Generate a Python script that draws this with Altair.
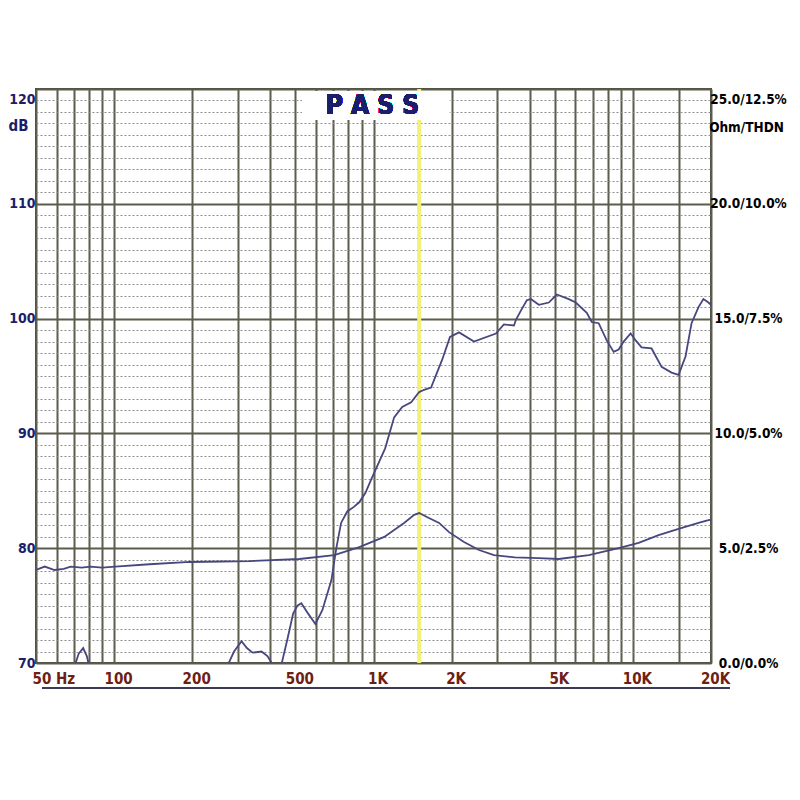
import altair as alt
import pandas as pd


# frequency response (dB SPL); values under 70 fall off the bottom
spl_freq = [50, 65, 70.6, 73, 76, 78.5, 80, 90, 250,
            274, 290, 310, 325, 342, 370, 390, 408, 442,
            465, 490, 509, 527, 560, 597, 635, 688, 719,
            750, 792, 840, 881, 930, 980, 1109, 1201, 1290,
            1397, 1500, 1567, 1667, 1838, 1972, 2137, 2440, 2965,
            3181, 3480, 3540, 3700, 3900, 4040, 4340, 4740, 5090,
            5660, 6020, 6640, 6940, 7380, 7925, 8430, 8810, 9210,
            9800, 10250, 10800, 11800, 12900, 14090, 15000, 15950, 16830,
            17900, 18700, 19550, 20000]
spl_db = [60, 60, 69.8, 70.8, 71.3, 70.6, 69.8, 60, 60,
          69.8, 71.0, 71.9, 71.3, 70.9, 71.0, 70.6, 69.9, 69.9,
          72.0, 74.3, 75.0, 75.2, 74.3, 73.4, 74.6, 77.2, 80.0,
          82.2, 83.2, 83.6, 84.0, 84.8, 86.0, 88.7, 91.4, 92.3,
          92.7, 93.6, 93.8, 94.0, 96.4, 98.4, 98.8, 98.0, 98.7,
          99.5, 99.4, 99.9, 100.7, 101.6, 101.7, 101.2, 101.4, 102.1,
          101.7, 101.4, 100.5, 99.7, 99.6, 98.1, 97.1, 97.3, 98.0,
          98.7, 98.1, 97.5, 97.4, 95.8, 95.3, 95.1, 96.7, 99.6,
          101.0, 101.7, 101.4, 101.2]

# impedance (ohm)
imp_freq = [50, 54, 59, 64, 68, 75, 81, 90, 101, 137, 196, 260, 333,
            518, 706, 881, 1100, 1312, 1435, 1500, 1606, 1790, 1955,
            2233, 2551, 2913, 3500, 4340, 5180, 6760, 8810, 10520,
            12560, 15000, 17900, 19230, 20000]
imp_ohm = [4.05, 4.2, 4.05, 4.1, 4.2, 4.15, 4.2, 4.15, 4.2, 4.3, 4.4, 4.42, 4.44,
           4.53, 4.7, 5.05, 5.49, 6.1, 6.45, 6.53, 6.36, 6.1, 5.7,
           5.27, 4.92, 4.7, 4.6, 4.57, 4.53, 4.7, 5.0, 5.23,
           5.57, 5.84, 6.1, 6.2, 6.25]

grid_freqs = [50, 60, 70, 80, 90, 100, 200, 300, 400, 500, 600, 700, 800, 900,
              1000, 2000, 3000, 4000, 5000, 6000, 7000, 8000, 9000, 10000, 15000, 20000]
hz_labels = [100, 200, 500]
k_labels = [1000, 2000, 5000, 10000, 20000]
db_ticks = list(range(70, 121))
ohm_ticks = [0, 5, 10, 15, 20, 25]
marker_freq = [1500]
verdict = "P A S S"

FONT = "DejaVu Sans Condensed, Liberation Sans Narrow, sans-serif"
NAVY = "#1b1f6b"
CURVE = "#47477f"
GRID = "#5c5c4c"

spl = pd.DataFrame({"freq": spl_freq, "db": spl_db})
imp = pd.DataFrame({"freq": imp_freq, "ohm": imp_ohm})
marker = pd.DataFrame({"freq": marker_freq})

x_scale = alt.Scale(type="log", domain=[50, 20000], nice=False)

x_label_expr = (
    "datum.value == 50 ? '50  Hz' : "
    f"indexof({hz_labels}, datum.value) >= 0 ? toString(datum.value) : "
    f"indexof({k_labels}, datum.value) >= 0 ? toString(datum.value / 1000) + 'K' : ''"
)

x_axis = alt.Axis(
    values=grid_freqs, tickCount=100, labelExpr=x_label_expr, title=None,
    grid=True, gridColor=GRID, gridWidth=2, ticks=False, domain=False,
    labelColor="#6e2015", labelFont=FONT, labelFontSize=15, labelFontWeight="bold",
    labelPadding=8, labelFlush=False, labelOverlap=False, labelBound=False,
    labelAlign={"expr": "datum.value == 50 ? 'left' : 'center'"},
    labelOffset={"expr": "datum.value == 50 ? -4 : 4"},
)

db_axis = alt.Axis(
    values=db_ticks, tickCount=100,
    labelExpr="datum.value % 10 == 0 ? toString(datum.value) : ''",
    grid=True,
    gridColor={"expr": "datum.value % 10 == 0 ? '#5c5c4c' : '#8c8c8c'"},
    gridWidth={"expr": "datum.value % 10 == 0 ? 2 : 1"},
    gridDash={"expr": "datum.value % 10 == 0 ? [] : [2, 2]"},
    ticks=False, domain=False, labelOverlap=False,
    labelColor=NAVY, labelFont=FONT, labelFontSize=14, labelFontWeight="bold",
    labelPadding=1,
    labelBaseline={"expr": "datum.value == 120 ? 'top' : 'middle'"},
    labelOffset={"expr": "datum.value == 120 ? 3 : 0"},
    title="dB", titleAngle=0, titleX=-8, titleY=36, titleAlign="right",
    titleBaseline="middle", titleColor=NAVY, titleFont=FONT, titleFontSize=15,
    titleFontWeight="bold",
)

ohm_axis = alt.Axis(
    orient="right", values=ohm_ticks,
    labelExpr="format(datum.value, '.1f') + '/' + format(datum.value / 2, '.1f') + '%'",
    grid=False, ticks=False, domain=False, labelOverlap=False,
    labelColor="black", labelFont=FONT, labelFontSize=13.5, labelFontWeight="bold",
    labelAlign="center", labelPadding=37,
    labelBaseline={"expr": "datum.value == 25 ? 'top' : 'middle'"},
    labelOffset={"expr": "datum.value == 25 ? 3 : 0"},
    title="Ohm/THDN", titleAngle=0, titleX=35, titleY=38, titleAlign="center",
    titleBaseline="middle", titleColor="black", titleFont=FONT, titleFontSize=13.5,
    titleFontWeight="bold",
)

x_enc = alt.X("freq:Q", scale=x_scale, axis=x_axis)

marker_rule = alt.Chart(marker).mark_rule(color="#f3f07c", strokeWidth=4).encode(
    x=alt.X("freq:Q", scale=x_scale)
)

spl_line = alt.Chart(spl).mark_line(color=CURVE, strokeWidth=1.8, clip=True).encode(
    x=x_enc,
    y=alt.Y("db:Q", scale=alt.Scale(domain=[70, 120], nice=False, zero=False), axis=db_axis),
)

pass_box = alt.Chart(spl).mark_rect(color="white").encode(
    x=alt.X(datum=532), x2=alt.X2(datum=1955),
    y=alt.Y(datum=119.8), y2=alt.Y2(datum=117.3),
)

pass_text = alt.Chart(spl).mark_text(
    text=verdict, font=FONT, fontSize=26, fontWeight="bold", color=NAVY,
    align="center", baseline="middle",
).encode(x=alt.X(datum=990), y=alt.Y(datum=118.5))

base_line = alt.Chart(spl).mark_rule(color="#3a3a5a", strokeWidth=2).encode(
    x=alt.value(6), x2=alt.value(694), y=alt.value(599)
)

spl_layer = alt.layer(marker_rule, spl_line, pass_box, pass_text, base_line)

imp_line = alt.Chart(imp).mark_line(color=CURVE, strokeWidth=1.8, clip=True).encode(
    x=alt.X("freq:Q", scale=x_scale),
    y=alt.Y("ohm:Q", scale=alt.Scale(domain=[0, 25], nice=False), axis=ohm_axis),
)

chart = alt.layer(spl_layer, imp_line).resolve_scale(y="independent").properties(
    width=675, height=574,
    padding={"left": 28, "top": 81, "right": 81, "bottom": 129},
    autosize=alt.AutoSizeParams(type="none"),
    background="white",
).configure_view(stroke="#4a4a40", strokeWidth=2)

chart.save("out.html", embed_options={"renderer": "svg", "actions": False})
